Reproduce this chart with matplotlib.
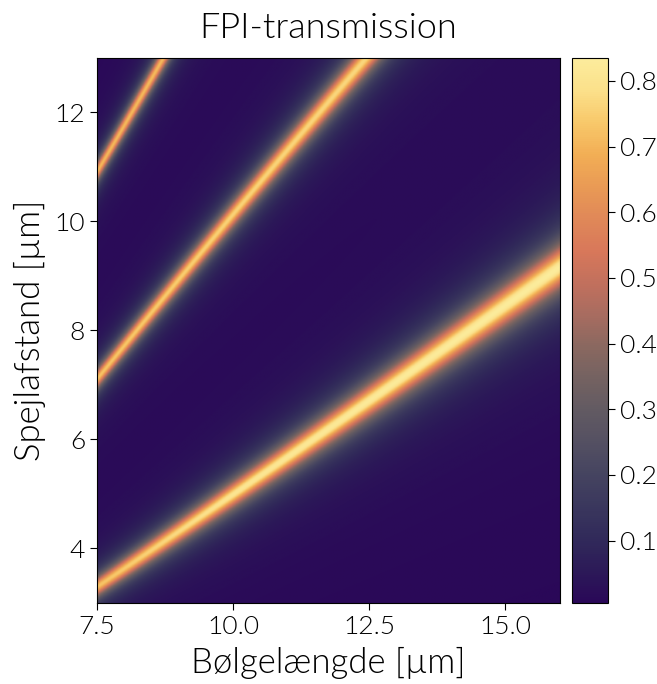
import numpy as np
import matplotlib.pyplot as plt
from matplotlib.colors import LinearSegmentedColormap

plt.rcParams['font.family'] = ['Lato', 'DejaVu Sans']

# ridge centres (mirror distance in um), one per order
lam1 = [7.5, 8.5, 10.0, 11.5, 13.0, 14.5, 16.0]
d1 = [3.26, 3.95, 5.1, 6.0, 7.0, 8.05, 9.2]
lam2 = [7.5, 8.38, 9.29, 10.38, 11.35, 12.48]
d2 = [7.1, 8.2, 9.25, 10.6, 11.7, 13.03]
lam3 = [7.5, 8.1, 8.72]
d3 = [10.91, 11.93, 13.0]

# peak transmission along each ridge
amp_lam = [7.5, 10.0, 12.5, 16.0]
amp1 = [0.72, 0.80, 0.82, 0.83]
amp2 = [0.72, 0.75, 0.76, 0.76]
amp3 = [0.70, 0.71, 0.72, 0.72]

sqrtF = 6.8   # sqrt of coefficient of finesse
floor = 0.004

lam = np.linspace(7.5, 16, 600)
d = np.linspace(3, 13, 700)
L, D = np.meshgrid(lam, d)
w = L / (2 * np.pi * sqrtF)

T = np.full(L.shape, floor)
for lx, dx, ax_amp in [(lam1, d1, amp1), (lam2, d2, amp2), (lam3, d3, amp3)]:
    # smooth fit through the read ridge points
    c = np.polyval(np.polyfit(lx, dx, 2), lam)
    a = np.interp(lam, amp_lam, ax_amp)
    T += a[None, :] / (1 + ((D - c[None, :]) / w) ** 2)

cols = ['#2a0858', '#2c1a58', '#312a5a', '#3a375d', '#454460', '#545062',
        '#625a62', '#746261', '#8a6860', '#a86c60', '#c2705d', '#d8785a',
        '#e08858', '#e99a55', '#f2ae55', '#f8c86a', '#fbe08a', '#fcec9c']
cmap = LinearSegmentedColormap.from_list('fpi', cols)

fig = plt.figure(figsize=(6.57, 6.84), dpi=100)
ax = fig.add_axes([0.1476, 0.1184, 0.7047, 0.797])
cax = fig.add_axes([0.8706, 0.1184, 0.0548, 0.797])

im = ax.imshow(T, origin='lower', extent=[7.5, 16, 3, 13], aspect='auto',
               cmap=cmap, vmin=0.005, vmax=0.835, interpolation='bilinear')
ax.set_xticks([7.5, 10.0, 12.5, 15.0])
ax.set_xticklabels(['7.5', '10.0', '12.5', '15.0'])
ax.set_yticks([4, 6, 8, 10, 12])
ax.tick_params(labelsize=19, length=5)
for t in ax.get_xticklabels() + ax.get_yticklabels():
    t.set_fontweight(300)
ax.set_xlabel('Bølgelængde [µm]', fontsize=25, fontweight=300, labelpad=6)
ax.set_ylabel('Spejlafstand [µm]', fontsize=25, fontweight=300, labelpad=6)
ax.set_title('FPI-transmission', fontsize=26, fontweight=300, pad=14)

cb = fig.colorbar(im, cax=cax)
cb.set_ticks([0.1, 0.2, 0.3, 0.4, 0.5, 0.6, 0.7, 0.8])
cb.ax.tick_params(labelsize=19, length=5)
for t in cb.ax.get_yticklabels():
    t.set_fontweight(300)

fig.savefig('out.png', dpi=100)
